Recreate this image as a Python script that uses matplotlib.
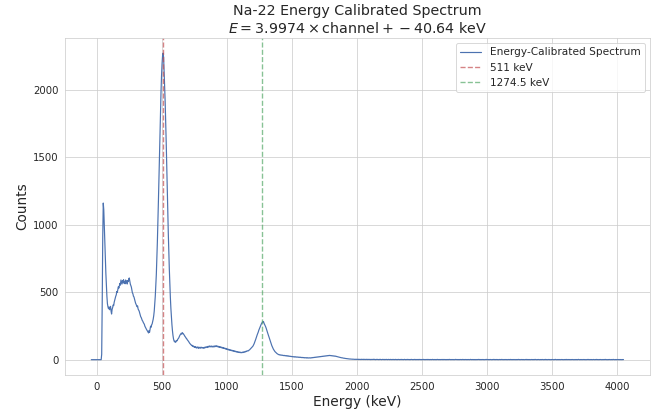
import numpy as np
import matplotlib
matplotlib.use("Agg")
import matplotlib.pyplot as plt
import seaborn as sns

# calibration from the title
slope = 3.9974
intercept = -40.64

# counts per channel
counts_0_149 = [
    0, 0, 0, 0, 0, 0, 0, 0, 0, 0, 0, 0, 0, 0, 0, 0, 0, 0, 0, 0,
    40, 420, 900, 1160, 1110, 990, 850, 730, 640, 550,
    470, 415, 392, 378, 390, 370, 385, 395, 360, 338, 372, 385, 405, 400, 425,
    440, 452, 470, 480, 505, 498, 520, 540, 530, 548, 565, 552, 590, 575, 560,
    585, 570, 592, 566, 580, 562, 590, 575, 582, 560, 585, 578, 598, 605, 580,
    560, 548, 538, 515, 495, 488, 470, 465, 450, 438, 420, 410, 402, 392, 398,
    375, 368, 360, 345, 330, 318, 312, 300, 290, 285, 275, 268, 262, 248, 240,
    232, 225, 218, 212, 205, 198, 215, 203, 228, 248, 240, 258, 265, 282, 300,
    325, 360, 410, 470, 545, 630, 740, 870, 1010, 1170, 1335, 1505, 1675, 1835, 1980,
    2100, 2190, 2250, 2270, 2240, 2130, 2040, 1910, 1770, 1610, 1440, 1260, 1100, 940, 800,
]
counts_150_299 = [
    670, 560, 460, 380, 320, 260, 215, 180, 155, 140, 132, 138, 128, 135, 142,
    140, 150, 155, 160, 170, 178, 185, 190, 196, 188, 200, 195, 192, 185, 180,
    172, 168, 160, 158, 150, 145, 140, 135, 128, 122, 118, 112, 110, 104, 106,
    98, 102, 96, 92, 98, 90, 94, 86, 92, 88, 95, 84, 90, 87, 93,
    85, 89, 92, 86, 90, 88, 84, 91, 87, 94, 89, 92, 96, 90, 98,
    93, 100, 95, 102, 97, 94, 101, 96, 99, 93, 98, 102, 95, 100, 97,
    104, 99, 96, 101, 94, 98, 92, 96, 90, 94, 88, 92, 86, 90, 84,
    87, 82, 85, 79, 83, 77, 80, 74, 78, 72, 75, 70, 73, 68, 71,
    66, 69, 64, 67, 62, 65, 60, 63, 58, 61, 56, 59, 55, 57, 53,
    56, 52, 55, 51, 54, 52, 56, 53, 57, 55, 59, 57, 62, 60, 64,
]
counts_300_509 = [
    66, 64, 66, 70, 72, 76, 80, 84, 88, 92, 97, 102, 110, 118, 128,
    138, 150, 162, 175, 185, 195, 205, 218, 228, 240, 250, 258, 266, 272, 280,
    276, 282, 270, 262, 255, 245, 235, 222, 210, 198, 186, 172, 160, 148, 136,
    125, 114, 104, 95, 86, 78, 72, 66, 60, 56, 52, 48, 45, 42, 40,
    38, 36, 37, 34, 35, 33, 34, 32, 33, 31, 30, 32, 29, 30, 28,
    30, 27, 29, 26, 28, 25, 26, 24, 25, 23, 24, 22, 23, 21, 22,
    20, 22, 19, 21, 20, 18, 20, 19, 17, 19, 18, 16, 18, 17, 15,
    17, 16, 14, 16, 15, 13, 15, 14, 13, 15, 12, 14, 13, 12, 14,
    13, 12, 14, 13, 15, 14, 16, 15, 17, 16, 18, 17, 19, 18, 20,
    19, 21, 20, 22, 21, 23, 22, 24, 23, 25, 24, 26, 25, 27, 26,
    28, 27, 29, 28, 30, 29, 31, 30, 32, 30, 31, 29, 30, 28, 29,
    27, 28, 26, 27, 25, 26, 24, 23, 22, 21, 20, 19, 18, 17, 16,
    15, 14, 14, 13, 12, 11, 11, 10, 9, 9, 8, 8, 7, 7, 6,
    6, 5, 5, 5, 4, 4, 4, 3, 4, 3, 3, 2, 3, 2, 3,
]
counts_tail = [
    2, 3, 2, 1, 3, 2, 2, 1, 2, 3, 1, 2, 2, 1, 3, 2, 1, 2, 1, 2, 3, 1, 1, 2, 2, 1, 2, 0, 2, 1,
    1, 2, 1, 3, 1, 2, 0, 1, 2, 1, 2, 1, 1, 0, 2, 1, 2, 1, 0, 1, 2, 1, 1, 2, 0, 1, 1, 2, 1, 0,
    1, 2, 1, 1, 0, 2, 1, 1, 0, 1, 2, 1, 0, 1, 1, 2, 0, 1, 1, 0, 2, 1, 1, 0, 1, 1, 2, 0, 1, 1,
    0, 1, 2, 1, 0, 1, 1, 0, 2, 1, 1, 0, 1, 0, 1, 2, 1, 0, 1, 1, 0, 1, 2, 0, 1, 1, 0, 1, 1, 0,
    2, 1, 0, 1, 1, 0, 1, 0, 2, 1, 0, 1, 1, 0, 1, 1, 0, 2, 1, 0, 1, 0, 1, 1, 0, 1, 2, 0, 1, 0,
    1, 1, 0, 1, 0, 2, 1, 0, 1, 1, 0, 1, 0, 1, 1, 0, 2, 0, 1, 1, 0, 1, 0, 1, 0, 1, 1, 0, 2, 1,
    0, 1, 0, 1, 1, 0, 1, 0, 0, 1, 2, 0, 1, 1, 0, 1, 0, 1, 0, 1, 1, 0, 1, 0, 2, 1, 0, 1, 0, 1,
    1, 0, 1, 0, 1, 1, 0, 0, 1, 2, 0, 1, 0, 1, 1, 0, 1, 0, 1, 0, 0, 1, 1, 0, 1, 2, 0, 1, 0, 1,
    0, 1, 1, 0, 1, 0, 0, 1, 1, 0, 2, 1, 0, 1, 0, 1, 0, 1, 1, 0, 0, 1, 0, 1, 2, 0, 1, 0, 1, 1,
    0, 1, 0, 0, 1, 1, 0, 1, 0, 2, 1, 0, 0, 1, 0, 1, 1, 0, 1, 0, 0, 1, 1, 0, 1, 0, 2, 0, 1, 0,
    1, 0, 1, 1, 0, 0, 1, 0, 1, 0, 1, 2, 0, 1, 0, 0, 1, 1, 0, 1, 0, 1, 0, 0, 1, 1, 0, 2, 0, 1,
    0, 1, 0, 1, 0, 0, 1, 1, 0, 1, 0, 1, 0, 2, 1, 0, 0, 1, 0, 1, 1, 0, 0, 1, 0, 1, 0, 1, 1, 0,
    0, 1, 0, 2, 0, 1, 0, 0, 1, 1, 0, 1, 0, 0, 1, 0, 1, 1, 0, 0, 1, 0, 2, 1, 0, 0, 1, 0, 1, 0,
    1, 0, 0, 1, 1, 0, 1, 0, 0, 1, 0, 1, 0, 2, 0, 0, 1, 1, 0, 1, 0, 0, 1, 0, 1, 1, 0, 0, 1, 0,
    0, 1, 0, 1, 0, 0, 2, 1, 0, 0, 1, 0, 1, 0, 0, 1, 1, 0, 1, 0, 0, 1, 0, 0, 1, 2, 0, 1, 0, 0,
    1, 0, 1, 0, 0, 1, 1, 0, 0, 1, 0, 2, 0, 1, 0, 0, 1, 0, 1, 1, 0, 0, 1, 0, 0, 1, 0, 1, 2, 0,
    0, 1, 0, 0, 1, 0, 1, 1, 0, 0, 1, 0, 0, 2, 1, 0, 0, 1, 0, 1, 0, 0, 1, 1, 0, 0, 1, 0, 1, 0,
    0, 1, 0, 1,
]

ref_lines = [511, 1274.5]
ref_labels = ['511 keV', '1274.5 keV']
ref_colors = ['r', 'g']

counts = np.array(counts_0_149 + counts_150_299 + counts_300_509 + counts_tail)
channels = np.arange(len(counts))
energy = slope * channels + intercept

sns.set_style('whitegrid')
sns.set_palette('deep', color_codes=True)

fig, ax = plt.subplots(figsize=(10, 6.26), dpi=66)
ax.plot(energy, counts, color='#4c72b0', lw=1.3, label='Energy-Calibrated Spectrum')
for e, lab, c in zip(ref_lines, ref_labels, ref_colors):
    ax.axvline(e, color=c, linestyle='--', alpha=0.7, lw=1.5, label=lab)

ax.set_title('Na-22 Energy Calibrated Spectrum\n'
             r'$E = %.4f \times \mathrm{channel} + %.2f$ keV' % (slope, intercept),
             fontsize=15.5)
ax.set_xlabel('Energy (keV)', fontsize=15)
ax.set_ylabel('Counts', fontsize=15)
ax.set_xticks(np.arange(0, 4001, 500))
ax.tick_params(labelsize=11)
ax.legend(loc='upper right', fontsize=11.5)

fig.subplots_adjust(left=0.098, right=0.985, top=0.908, bottom=0.092)
fig.savefig('out.png', dpi=66)
